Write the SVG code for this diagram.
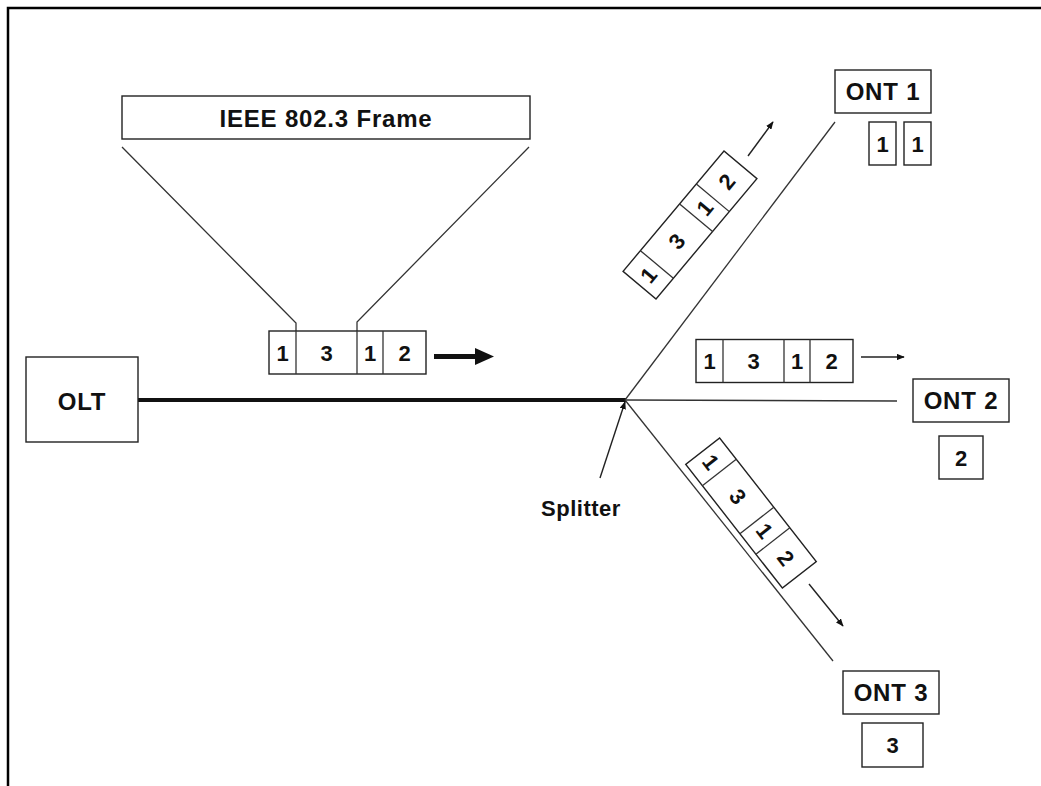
<svg xmlns="http://www.w3.org/2000/svg" width="1041" height="786" viewBox="0 0 1041 786">
<style>
.box{fill:#fff;stroke:#222;stroke-width:1.4}
.thin{fill:none;stroke:#333;stroke-width:1.3}
.t{font-family:"Liberation Sans",Arial,sans-serif;font-weight:bold;font-size:24px;fill:#111;text-anchor:middle;letter-spacing:0.8px}
.d{font-family:"Liberation Sans",Arial,sans-serif;font-weight:bold;font-size:22px;fill:#111;text-anchor:middle}
</style>
<defs>
<marker id="ah" viewBox="0 0 10 8" refX="9" refY="4" markerWidth="8" markerHeight="6.4" markerUnits="userSpaceOnUse" orient="auto">
<path d="M0,0 L10,4 L0,8 z" fill="#111"/>
</marker>
<g id="frame">
<rect class="box" x="-78.5" y="-21.5" width="157" height="43"/>
<line class="thin" x1="-51.5" y1="-21.5" x2="-51.5" y2="21.5"/>
<line class="thin" x1="9.5" y1="-21.5" x2="9.5" y2="21.5"/>
<line class="thin" x1="35.5" y1="-21.5" x2="35.5" y2="21.5"/>
<text class="d" x="-65" y="8">1</text>
<text class="d" x="-21" y="8">3</text>
<text class="d" x="22.5" y="8">1</text>
<text class="d" x="57" y="8">2</text>
</g>
</defs>
<rect width="1041" height="786" fill="#fff"/>
<g id="border" fill="none" stroke="#000" stroke-width="2.5">
<polyline points="8,786 8,8 1041,8"/>
</g>
<g id="connectors">
<line x1="138" y1="400" x2="626" y2="400" stroke="#111" stroke-width="4"/>
<line class="thin" x1="625" y1="400" x2="835" y2="122"/>
<line class="thin" x1="625" y1="400" x2="897" y2="401"/>
<line class="thin" x1="625" y1="400" x2="833" y2="661"/>
<polyline class="thin" points="122,147 296,323 296,331"/>
<polyline class="thin" points="529,147 357,322 357,331"/>
<line x1="600" y1="478" x2="625" y2="402" stroke="#222" stroke-width="1.4" marker-end="url(#ah)"/>
<line x1="748" y1="156" x2="773" y2="122" stroke="#222" stroke-width="1.4" marker-end="url(#ah)"/>
<line x1="861" y1="357" x2="904" y2="357" stroke="#222" stroke-width="1.4" marker-end="url(#ah)"/>
<line x1="809" y1="584" x2="843" y2="626" stroke="#222" stroke-width="1.4" marker-end="url(#ah)"/>
<line x1="434" y1="356.5" x2="477" y2="356.5" stroke="#111" stroke-width="5"/>
<path d="M475,348 L494,356.5 L475,365 z" fill="#111"/>
</g>
<g id="olt">
<rect class="box" x="26" y="357" width="112" height="85"/>
<text class="t" x="82" y="410">OLT</text>
</g>
<g id="ieee-frame">
<rect class="box" x="122" y="96" width="408" height="43"/>
<text class="t" x="326" y="127">IEEE 802.3 Frame</text>
</g>
<g id="frame-olt">
<use href="#frame" x="347.5" y="352.5"/>
</g>
<g id="frame-ont1">
<use href="#frame" transform="translate(690,225) rotate(-50)"/>
</g>
<g id="frame-ont2">
<use href="#frame" x="774.5" y="361"/>
</g>
<g id="frame-ont3">
<use href="#frame" transform="translate(751,513) rotate(52)"/>
</g>
<g id="splitter">
<text class="t" x="581" y="516" style="font-size:22px;letter-spacing:0.5px">Splitter</text>
</g>
<g id="ont1">
<rect class="box" x="835" y="70" width="96" height="43"/>
<text class="t" x="883" y="100">ONT 1</text>
<rect class="box" x="869" y="122" width="27" height="43"/>
<text class="d" x="882.5" y="152">1</text>
<rect class="box" x="904" y="122" width="27" height="43"/>
<text class="d" x="917.5" y="152">1</text>
</g>
<g id="ont2">
<rect class="box" x="913" y="379" width="96" height="43"/>
<text class="t" x="961" y="409">ONT 2</text>
<rect class="box" x="939" y="436" width="44" height="43"/>
<text class="d" x="961" y="466">2</text>
</g>
<g id="ont3">
<rect class="box" x="843" y="671" width="96" height="43"/>
<text class="t" x="891" y="701">ONT 3</text>
<rect class="box" x="862" y="723" width="61" height="44"/>
<text class="d" x="892.5" y="753">3</text>
</g>
</svg>
